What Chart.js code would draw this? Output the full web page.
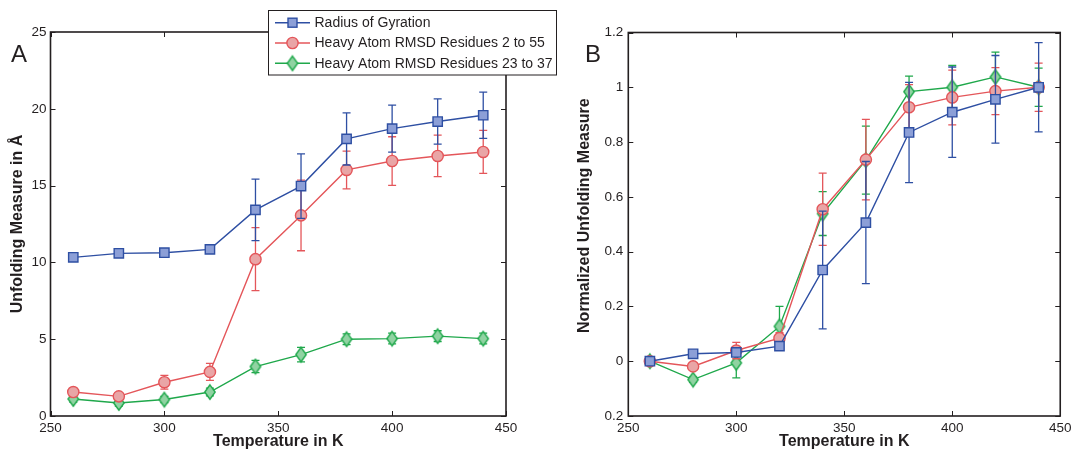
<!DOCTYPE html>
<html>
<head>
<meta charset="utf-8">
<script src="https://cdn.jsdelivr.net/npm/chart.js@4.4.1/dist/chart.umd.min.js"></script>
<style>
  html, body { margin: 0; padding: 0; background: #fff; }
  #wrap { position: relative; width: 1076px; height: 450px; overflow: hidden; }
  .pane { position: absolute; top: 0; height: 450px; }
</style>
</head>
<body>
<div id="wrap">
  <div class="pane" style="left:0;width:570px"><canvas id="chartA" width="570" height="450"></canvas></div>
  <div class="pane" style="left:570px;width:506px"><canvas id="chartB" width="506" height="450"></canvas></div>
</div>
<script>
/* ---- data ---- */
const temps = [260, 280, 300, 320, 340, 360, 380, 400, 420, 440];

// panel A (Angstrom)
const rgA      = [10.33, 10.59, 10.63, 10.85, 13.42, 14.97, 18.04, 18.71, 19.17, 19.58];
const rgAErr   = [0.15, 0.15, 0.15, 0.15, 2.0, 2.1, 1.7, 1.53, 1.47, 1.5];
const rmsdA    = [1.56, 1.28, 2.2, 2.87, 10.21, 13.06, 16.02, 16.6, 16.93, 17.19];
const rmsdAErr = [0.2, 0.2, 0.45, 0.55, 2.05, 2.3, 1.23, 1.58, 1.35, 1.4];
const coreA    = [1.11, 0.85, 1.07, 1.56, 3.22, 4.0, 5.0, 5.04, 5.2, 5.04];
const coreAErr = [0.2, 0.2, 0.2, 0.25, 0.4, 0.47, 0.35, 0.35, 0.35, 0.35];

// panel B (normalized)
const rgB      = [0, 0.027, 0.032, 0.055, 0.333, 0.506, 0.835, 0.909, 0.956, 1.0];
const rgBErr   = [0, 0.01, 0.01, 0.01, 0.215, 0.223, 0.183, 0.165, 0.16, 0.163];
const rmsdB    = [0, -0.019, 0.039, 0.084, 0.555, 0.736, 0.927, 0.963, 0.986, 1.0];
const rmsdBErr = [0, 0.01, 0.03, 0.02, 0.132, 0.147, 0.083, 0.1, 0.086, 0.088];
const coreB    = [0, -0.067, -0.006, 0.127, 0.539, 0.734, 0.984, 1.0, 1.038, 1.0];
const coreBErr = [0, 0.01, 0.055, 0.073, 0.08, 0.124, 0.057, 0.08, 0.09, 0.07];

const seriesNames = ['Radius of Gyration', 'Heavy Atom RMSD Residues 2 to 55', 'Heavy Atom RMSD Residues 23 to 37'];
const xTicks   = [250, 300, 350, 400, 450];
const yTicksA  = ['0', '5', '10', '15', '20', '25'];
const yTicksB  = ['0.2', '0', '0.2', '0.4', '0.6', '0.8', '1', '1.2'];

/* ---- look ---- */
const FONT = '"Liberation Sans", Arial, Helvetica, sans-serif';
const INK = '#231f20';
const BLUE  = { line: '#2e4fa3', fill: '#8c9fd7' };
const RED   = { line: '#e4565a', fill: '#e9a5a6' };
const GREEN = { line: '#1fa84b', fill: '#90d3a2' };

// tall diamond marker (Chart.js rectRot is square, MATLAB's is not)
function diamondCanvas() {
  const c = document.createElement('canvas');
  c.width = 14; c.height = 18;
  const g = c.getContext('2d');
  g.beginPath();
  g.moveTo(7, 1.8); g.lineTo(12.2, 9); g.lineTo(7, 16.2); g.lineTo(1.8, 9); g.closePath();
  g.fillStyle = GREEN.fill; g.fill();
  g.strokeStyle = GREEN.line; g.lineWidth = 1.4; g.stroke();
  return c;
}
const diamond = diamondCanvas();

const pts = vals => temps.map((t, i) => ({ x: t, y: vals[i] }));

function datasets(rg, rgE, rm, rmE, co, coE) {
  return [
    { label: seriesNames[0], data: pts(rg), err: rgE, borderColor: BLUE.line, backgroundColor: BLUE.fill,
      borderWidth: 1.4, pointStyle: 'rect', pointRadius: 6.6, pointBorderWidth: 1.4 },
    { label: seriesNames[1], data: pts(rm), err: rmE, borderColor: RED.line, backgroundColor: RED.fill,
      borderWidth: 1.4, pointStyle: 'circle', pointRadius: 5.6, pointBorderWidth: 1.4 },
    { label: seriesNames[2], data: pts(co), err: coE, borderColor: GREEN.line, backgroundColor: GREEN.fill,
      borderWidth: 1.4, pointStyle: diamond, pointRadius: 6 },
  ];
}

/* ---- plugins ---- */
const errorBars = {
  id: 'errorBars',
  beforeDatasetDraw(chart, args) {
    const ds = chart.data.datasets[args.index];
    if (!ds.err) return;
    const { ctx, scales: { x, y } } = chart;
    ctx.save();
    ctx.strokeStyle = ds.borderColor;
    ctx.lineWidth = 1.3;
    ds.data.forEach((p, i) => {
      const e = ds.err[i];
      if (!e) return;
      const px = x.getPixelForValue(p.x);
      const top = y.getPixelForValue(p.y + e), bot = y.getPixelForValue(p.y - e);
      ctx.beginPath();
      ctx.moveTo(px, top); ctx.lineTo(px, bot);
      ctx.moveTo(px - 4, top); ctx.lineTo(px + 4, top);
      ctx.moveTo(px - 4, bot); ctx.lineTo(px + 4, bot);
      ctx.stroke();
    });
    ctx.restore();
  }
};

// MATLAB style box with inward ticks on all four sides
const boxAxes = {
  id: 'boxAxes',
  afterDatasetsDraw(chart) {
    const { ctx, chartArea: a, scales: { x, y } } = chart;
    ctx.save();
    ctx.strokeStyle = INK;
    ctx.lineWidth = 1;
    x.ticks.forEach(t => {
      const px = Math.round(x.getPixelForValue(t.value)) + 0.5;
      ctx.beginPath();
      ctx.moveTo(px, a.bottom); ctx.lineTo(px, a.bottom - 5);
      ctx.moveTo(px, a.top); ctx.lineTo(px, a.top + 5);
      ctx.stroke();
    });
    y.ticks.forEach(t => {
      const py = Math.round(y.getPixelForValue(t.value)) + 0.5;
      ctx.beginPath();
      ctx.moveTo(a.left, py); ctx.lineTo(a.left + 5, py);
      ctx.moveTo(a.right, py); ctx.lineTo(a.right - 5, py);
      ctx.stroke();
    });
    ctx.lineWidth = 1.6;
    ctx.strokeRect(a.left, a.top, a.right - a.left, a.bottom - a.top);
    ctx.restore();
  }
};

const annotations = {
  id: 'annotations',
  afterDraw(chart, args, o) {
    const { ctx, chartArea: a } = chart;
    ctx.save();
    ctx.fillStyle = INK;
    // panel letter
    ctx.font = '24px ' + FONT;
    ctx.textAlign = 'left'; ctx.textBaseline = 'alphabetic';
    ctx.fillText(o.letter, o.letterX, 62);
    // axis titles
    ctx.font = 'bold 16px ' + FONT;
    ctx.textAlign = 'center'; ctx.textBaseline = 'middle';
    ctx.fillText('Temperature in K', (a.left + a.right) / 2, 442);
    ctx.translate(o.yTitleX, o.yTitleY);
    ctx.rotate(-Math.PI / 2);
    ctx.fillText(o.yTitle, 0, 0);
    ctx.restore();

    if (!o.legend) return;
    // legend box
    ctx.save();
    ctx.fillStyle = '#fff';
    ctx.fillRect(268.5, 10.5, 288, 64.5);
    ctx.strokeStyle = INK; ctx.lineWidth = 1;
    ctx.strokeRect(268.5, 10.5, 288, 64.5);
    const rows = [22.7, 43, 63.3];
    const cols = [BLUE, RED, GREEN];
    ctx.font = '14px ' + FONT;
    ctx.textAlign = 'left'; ctx.textBaseline = 'middle';
    rows.forEach((ry, i) => {
      ctx.strokeStyle = cols[i].line; ctx.lineWidth = 1.4;
      ctx.beginPath(); ctx.moveTo(275, ry); ctx.lineTo(310, ry); ctx.stroke();
      ctx.fillStyle = cols[i].fill;
      if (i === 0) {
        ctx.fillRect(288, ry - 4.5, 9, 9); ctx.strokeRect(288, ry - 4.5, 9, 9);
      } else if (i === 1) {
        ctx.beginPath(); ctx.arc(292.5, ry, 5.6, 0, Math.PI * 2); ctx.fill(); ctx.stroke();
      } else {
        ctx.drawImage(diamond, 292.5 - 7, ry - 9);
      }
      ctx.fillStyle = INK;
      ctx.fillText(seriesNames[i], 314.5, ry + 0.5);
    });
    ctx.restore();
  }
};

function axes(yMin, yMax, yStep, yLabels, yWidth, yPad) {
  return {
    x: {
      type: 'linear', min: 250, max: 450,
      afterBuildTicks: s => { s.ticks = xTicks.map(v => ({ value: v })); },
      afterFit: s => { s.height = 34; },
      grid: { display: false, drawTicks: false }, border: { display: false },
      ticks: { color: INK, font: { family: FONT, size: 13.5 }, padding: 4.5, maxRotation: 0 }
    },
    y: {
      type: 'linear', min: yMin, max: yMax,
      ticks: { stepSize: yStep, color: INK, font: { family: FONT, size: 13.5 }, padding: yPad,
               callback: (v, i) => yLabels[i] },
      afterFit: s => { s.width = yWidth; },
      grid: { display: false, drawTicks: false }, border: { display: false }
    }
  };
}

function baseOptions(padding, scales, ann) {
  return {
    responsive: false, animation: false, devicePixelRatio: 1,
    layout: { padding },
    scales,
    plugins: { legend: { display: false }, tooltip: { enabled: false }, annotations: ann },
    elements: { line: { tension: 0 } }
  };
}

new Chart(document.getElementById('chartA'), {
  type: 'line',
  data: { datasets: datasets(rgA, rgAErr, rmsdA, rmsdAErr, coreA, coreAErr) },
  options: baseOptions({ left: 0, top: 32, right: 64, bottom: 0 },
    axes(0, 25, 5, yTicksA, 50.5, 4),
    { letter: 'A', letterX: 11, yTitle: 'Unfolding Measure in Å', yTitleX: 17.5, yTitleY: 224, legend: true }),
  plugins: [errorBars, boxAxes, annotations]
});

new Chart(document.getElementById('chartB'), {
  type: 'line',
  data: { datasets: datasets(rgB, rgBErr, rmsdB, rmsdBErr, coreB, coreBErr) },
  options: baseOptions({ left: 0, top: 32.5, right: 11, bottom: 0 },
    axes(-0.2, 1.2, 0.2, yTicksB, 58.3, 5),
    { letter: 'B', letterX: 15, yTitle: 'Normalized Unfolding Measure', yTitleX: 15, yTitleY: 215.6, legend: false }),
  plugins: [errorBars, boxAxes, annotations]
});
</script>
</body>
</html>
